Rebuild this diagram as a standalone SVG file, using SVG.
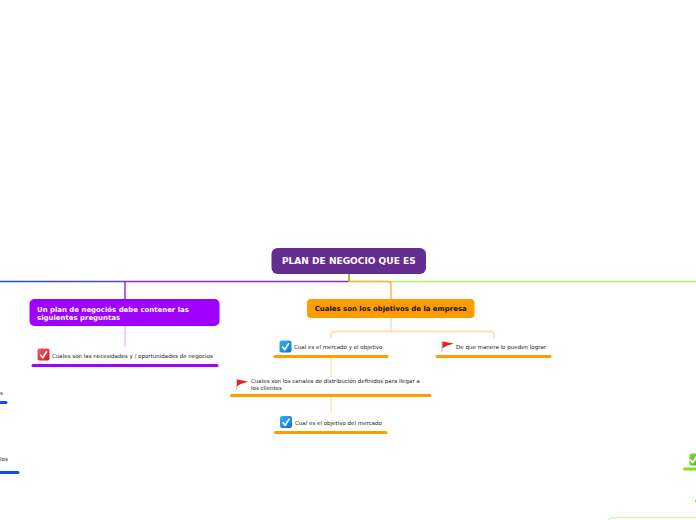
<svg xmlns="http://www.w3.org/2000/svg" width="696" height="520" viewBox="0 0 696 520">
<style>
text{font-family:"DejaVu Sans",Verdana,sans-serif}
.t{font-size:5.53px;fill:#222}
.h{font-size:6.95px;font-weight:bold}
.c{fill:none;stroke-linecap:round}
.u{stroke-width:3;stroke-linecap:round;fill:none}
.o{stroke:#ff9d00}.p{stroke:#a000ff}.b{stroke:#0f4ff0}.g{stroke:#7be800}
.ck{fill:none;stroke:#fff;stroke-width:1.7;stroke-linecap:round;stroke-linejoin:round}
</style>
<defs>
<linearGradient id="lb" gradientUnits="userSpaceOnUse" x1="0" y1="0" x2="125" y2="0"><stop offset="0" stop-color="#0f55e8"/><stop offset="1" stop-color="#5a40e0"/></linearGradient>
<linearGradient id="bl" x1="0" y1="0" x2="1" y2="1"><stop offset="0" stop-color="#35b4f5"/><stop offset="1" stop-color="#0a6fd8"/></linearGradient>
<linearGradient id="rd" x1="0" y1="0" x2="1" y2="1"><stop offset="0" stop-color="#f5606a"/><stop offset="1" stop-color="#d8141e"/></linearGradient>
<linearGradient id="gn" x1="0" y1="0" x2="1" y2="1"><stop offset="0" stop-color="#7ce030"/><stop offset="1" stop-color="#45b010"/></linearGradient>
<g id="flag"><path d="M0.5 0V11" stroke="#ccc" stroke-width="1.2" fill="none"/><path d="M1 0.4L12 2.4Q8 3.6 6 4.6Q3 5.8 1 7.4Z" fill="#ea1c24"/></g>
<path id="tick" class="ck" d="M-2.8 0.2L-0.8 2.8L3 -3.2"/>
</defs>
<g id="connectors">
<path class="c" d="M125 281.500H349" stroke="#8a28ea" stroke-width="1.4"/>
<path class="c" d="M0 281.500H125" stroke="url(#lb)" stroke-width="1.4"/>
<path class="c" d="M125 282V299" stroke="#a000ff" stroke-width="1.3"/>
<path class="c" d="M125 326V346" stroke="#e3b8ff" stroke-width="1.3"/>
<path class="c" d="M349 281.500H696" stroke="#b4ee66" stroke-width="1.4"/>
<path class="c" d="M349 274V281" stroke="#8fc01f" stroke-width="1.8"/>
<path class="c" d="M350 281.500H388Q391 281.500 391 284V299" stroke="#ffb040" stroke-width="1.4"/>
<path class="c" d="M391 318V331M331 338V335Q331 331.500 335 331.500H490Q494 331.500 494 335V338" stroke="#ffd9a0" stroke-width="1.3"/>
<path class="c" d="M331 358V376M331 397V413" stroke="#ffe0b0" stroke-width="1.3"/>
<path class="c" d="M696 517.500H616Q609 517.500 608 520" stroke="#d5f7b0" stroke-width="1.3"/>
</g>
<g id="root"><rect x="271.500" y="248" width="154.500" height="26" rx="6" fill="#662d91"/><text x="348.800" y="264" text-anchor="middle" font-size="9.05" font-weight="bold" fill="#fff">PLAN DE NEGOCIO QUE ES</text></g>
<g id="n1"><rect x="29.500" y="299" width="190" height="27" rx="5" fill="#a000ff"/><text class="h" x="37" y="311.500" fill="#fff">Un plan de negociós debe contener las</text><text class="h" x="37" y="319.500" fill="#fff">siguientes preguntas</text></g>
<g id="n1a"><rect x="37.500" y="348.500" width="12" height="12" rx="2" fill="url(#rd)"/><use href="#tick" x="43.500" y="355"/><text class="t" x="52" y="357.500">Cuales son las necesidades y / oportunidades de negocios</text><path class="u p" d="M33 365.500H217"/></g>
<g id="n2"><rect x="307" y="299" width="167.500" height="19" rx="4" fill="#ff9d00"/><text class="h" x="390.700" y="311" text-anchor="middle" fill="#111">Cuales son los objetivos de la empresa</text></g>
<g id="n2a"><rect x="279.500" y="340.500" width="12" height="12" rx="2" fill="url(#bl)"/><use href="#tick" x="285.500" y="347"/><text class="t" x="294" y="349">Cual es el mercado y el objetivo</text><path class="u o" d="M275 356.500H387"/></g>
<g id="n2b"><use href="#flag" x="441.500" y="341"/><text class="t" x="456" y="349">De que manera lo pueden lograr</text><path class="u o" d="M437 356.500H550"/></g>
<g id="n2c"><use href="#flag" x="236" y="379"/><text class="t" x="251" y="382.500">Cuales son los canales de distribución definidos para llegar a</text><text class="t" x="251" y="389.500">los clientes</text><path class="u o" d="M231.500 395.500H430"/></g>
<g id="n2d"><rect x="280" y="416" width="12" height="12" rx="2" fill="url(#bl)"/><use href="#tick" x="286" y="422.500"/><text class="t" x="295" y="425">Cual es el objetivo del mercado</text><path class="u o" d="M275.500 432.500H386"/></g>
<g id="left1"><text class="t" x="0" y="395">s</text><path class="u b" d="M-3 402.500H6"/></g>
<g id="left2"><text class="t" x="0" y="461">los</text><path class="u b" d="M-3 472.500H18"/></g>
<g id="right1"><rect x="689.500" y="453.500" width="12" height="12" rx="2" fill="url(#gn)"/><use href="#tick" x="693.500" y="460"/><path class="u g" d="M684.500 469H700"/></g>
<g id="right2"><rect x="695" y="500" width="2" height="2" fill="#7be800"/></g>
</svg>
